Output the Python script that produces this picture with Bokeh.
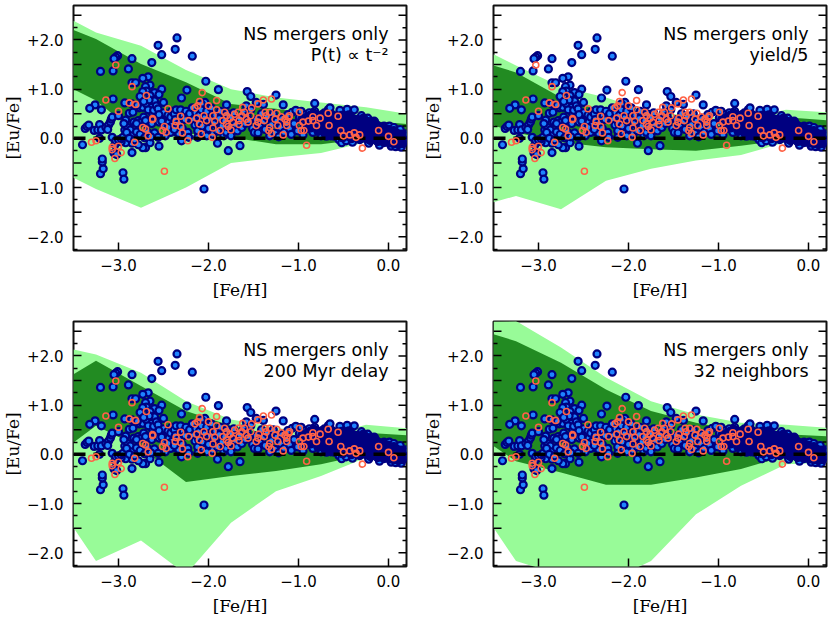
from bokeh.plotting import figure
from bokeh.layouts import column, row
from bokeh.models import Label, FixedTicker, Range1d
from bokeh.embed import file_html
from bokeh.resources import INLINE

# x nodes of the model bands
band_x = [-3.5, -3.25, -2.75, -2.25, -1.75, -1.25, -0.75, -0.25, 0.2]

light_hi_1 = [2.39, 2.15, 1.88, 1.39, 1.00, 0.83, 0.73, 0.63, 0.50]
light_lo_1 = [-0.80, -1.03, -1.41, -1.00, -0.50, -0.39, -0.30, -0.08, -0.05]
dark_hi_1 = [2.20, 2.02, 1.51, 1.14, 0.70, 0.60, 0.46, 0.36, 0.29]
dark_lo_1 = [1.00, 0.77, 0.02, 0.10, 0.02, -0.12, -0.12, -0.01, 0.05]

light_hi_2 = [1.71, 1.48, 1.05, 0.83, 0.53, 0.46, 0.39, 0.58, 0.53]
light_lo_2 = [-1.30, -1.17, -1.44, -0.86, -0.62, -0.45, -0.34, -0.08, -0.10]
dark_hi_2 = [1.48, 1.34, 0.83, 0.53, 0.39, 0.29, 0.22, 0.43, 0.37]
dark_lo_2 = [0.26, 0.12, -0.08, -0.18, -0.22, -0.25, -0.15, -0.03, -0.01]

light_hi_3 = [2.13, 2.03, 1.66, 1.08, 0.71, 0.55, 0.35, 0.60, 0.53]
light_lo_3 = [-1.49, -2.17, -1.75, -2.44, -1.39, -0.75, -0.44, -0.07, -0.05]
dark_hi_3 = [1.63, 1.90, 1.39, 0.88, 0.58, 0.37, 0.20, 0.44, 0.39]
dark_lo_3 = [0.24, 0.58, 0.13, -0.56, -0.44, -0.34, -0.20, 0.00, 0.01]

light_hi_4 = [2.70, 2.71, 2.17, 1.56, 1.08, 0.81, 0.64, 0.60, 0.54]
light_lo_4 = [-1.49, -2.17, -2.45, -2.60, -2.17, -1.22, -0.64, -0.20, -0.17]
dark_hi_4 = [2.44, 2.30, 1.86, 1.32, 0.88, 0.64, 0.47, 0.41, 0.37]
dark_lo_4 = [0.17, -0.14, -0.37, -0.62, -0.62, -0.47, -0.30, -0.03, -0.01]

titles = [("NS mergers only", "P(t) \u221d t\u207b\u00b2"),
          ("NS mergers only", "yield/5"),
          ("NS mergers only", "200 Myr delay"),
          ("NS mergers only", "32 neighbors")]

# [Fe/H], [Eu/Fe]
stars_high = [(-2.35,2.04),(-2.56,1.89),(-2.37,1.81),(-2.52,1.70),(-2.18,1.67),(-3.01,1.68),(-3.03,1.65),(-3.05,1.62),
 (-2.85,1.62),(-2.63,1.54),(-2.89,1.41),(-3.06,1.37),(-3.20,1.36),(-2.67,1.25),(-2.73,1.22),(-2.85,1.13),(-2.81,1.13),
 (-2.03,1.16),(-2.24,0.98),(-1.89,0.99),(-1.57,0.95),(-1.53,0.85),(-1.25,0.88),(-2.52,1.00),(-2.65,1.08),(-2.70,1.05),
 (-2.69,0.96),(-2.73,0.95),(-2.60,0.93),(-2.65,0.87),(-2.76,0.85),(-2.55,0.89),(-2.30,0.82),(-3.06,0.80),(-2.60,0.76),
 (-2.50,0.73),(-3.26,0.68),(-3.32,0.61),(-3.19,0.58),(-2.93,0.72),(-2.85,0.70),(-2.77,0.62),(-2.73,0.63),(-2.69,0.70),
 (-2.63,0.63),(-2.04,0.73),(-2.08,0.70),(-1.80,0.68),(-1.58,0.66),(-1.47,0.73),(-1.39,0.69),(-1.17,0.68),(-0.82,0.71)]
stars_low = [(-2.05,-1.03),(-3.20,-0.72),(-3.17,-0.62),(-3.18,-0.48),(-3.18,-0.42),(-2.95,-0.70),(-2.94,-0.83),
 (-2.85,-0.29),(-3.05,-0.30),(-3.02,-0.33),(-3.40,-0.13),(-1.78,-0.25),(-1.65,-0.15),(-1.90,-0.10),(-2.70,-0.19),
 (-2.73,-0.19),(-2.65,-0.09),(-2.55,-0.16),(-2.30,-0.05),(-2.85,-0.10),(-2.78,-0.13),(-2.92,-0.09),(-2.97,-0.07),(-3.04,-0.13)]
stars_vmp = [(-3.37,0.20),(-3.35,0.24),(-3.33,0.27),(-3.27,0.16),(-3.23,0.17),(-3.21,0.28),(-3.19,0.17),(-3.21,0.00),
 (-3.14,0.22),(-3.11,0.27),(-3.09,0.33),(-3.08,0.39),(-3.07,0.43),(-3.00,0.46),(-3.07,0.02),(-3.03,-0.05),(-3.00,-0.03),
 (-2.97,-0.01),(-2.95,0.02),(-2.93,0.17),(-2.92,0.37),(-2.90,0.22),(-2.88,0.51),(-2.87,0.17),(-2.85,0.05),(-2.83,0.33),
 (-2.84,0.53),(-2.80,0.13),(-2.78,0.36),(-2.75,0.33),(-2.72,0.43),(-2.70,0.30),(-2.68,0.13),(-2.66,0.37),(-2.63,0.30),
 (-2.63,0.53),(-2.60,0.11),(-2.58,0.40),(-2.57,0.52),(-2.55,0.33),(-2.53,0.45),(-2.50,0.52),(-2.49,0.25),(-2.70,0.36),
 (-2.67,0.58),(-2.61,0.57),(-2.58,0.66),(-2.56,0.60),(-2.66,0.78),(-2.72,0.75),(-2.79,0.67),(-2.80,0.30),(-2.91,0.12),
 (-2.88,0.00),(-2.82,-0.03),(-2.76,0.08),(-2.71,0.01),(-2.64,0.03),(-2.56,0.02),(-3.12,0.18),(-2.94,0.30)]
stars_mp = [(-2.47,0.37),(-2.45,0.47),(-2.44,0.33),(-2.42,0.43),(-2.41,0.55),(-2.40,0.27),(-2.38,0.50),(-2.37,0.38),
 (-2.36,0.58),(-2.35,0.12),(-2.33,0.30),(-2.31,0.58),(-2.29,0.20),(-2.28,0.47),(-2.26,0.38),(-2.25,0.55),(-2.23,0.12),
 (-2.21,0.50),(-2.18,0.62),(-2.17,0.38),(-2.15,0.27),(-2.14,0.52),(-2.12,0.15),(-2.11,0.30),(-2.10,0.47),(-2.08,0.58),
 (-2.07,0.25),(-2.05,0.10),(-2.04,0.42),(-2.02,0.55),(-2.00,0.20),(-1.98,0.38),(-1.97,0.62),(-1.95,0.08),(-1.94,0.30),
 (-1.92,0.47),(-1.90,0.15),(-1.88,0.40),(-1.87,0.55),(-1.85,0.25),(-1.83,0.05),(-1.82,0.35),(-1.80,0.12),(-1.79,0.50),
 (-1.77,0.22),(-1.75,0.05),(-1.74,0.42),(-1.72,0.52),(-1.70,0.28),(-1.68,0.15),(-2.48,0.05),(-2.42,0.12),(-2.33,0.10),
 (-2.22,0.02),(-2.12,0.02),(-2.02,0.05),(-2.45,0.22),(-2.38,0.18),(-2.55,0.48),(-2.52,0.35)]
stars_mid = [(-1.65,0.40),(-1.63,0.22),(-1.61,0.52),(-1.59,0.30),(-1.57,0.45),(-1.55,0.36),(-1.53,0.58),(-1.51,0.20),
 (-1.49,0.12),(-1.47,0.38),(-1.45,0.11),(-1.43,0.28),(-1.41,0.50),(-1.39,0.35),(-1.37,0.18),(-1.35,0.42),(-1.32,0.05),
 (-1.30,0.28),(-1.28,0.50),(-1.26,0.10),(-1.24,0.35),(-1.22,0.03),(-1.20,0.22),(-1.18,0.40),(-1.16,0.12),(-1.14,0.30),
 (-1.12,0.48),(-1.10,0.20),(-1.08,0.08),(-1.07,0.53),(-1.05,0.30),(-1.03,0.57),(-1.01,0.15),(-0.99,0.42),(-0.97,0.55),
 (-0.95,0.07),(-0.94,0.30),(-0.92,0.48),(-0.90,0.20),(-0.88,0.52),(-0.84,0.12),(-0.82,0.55),(-0.75,0.05),(-0.69,0.50),
 (-0.67,0.58),(-0.65,0.62),(-0.64,0.05),(-0.54,0.57),(-0.46,0.59),(-0.38,0.58),(-0.23,0.41),(-0.30,0.46),(-0.12,0.25),
 (-0.05,0.25),(0.01,0.25),(0.06,0.22),(0.13,0.18),(-0.55,-0.03),(-0.52,-0.09),(-0.47,-0.05),(-0.40,-0.08),(-0.22,-0.10),
 (-0.10,-0.14),(0.03,-0.16),(0.08,-0.17),(0.14,-0.18),(0.18,-0.05),(0.19,0.09)]
stars_disk_core = [(-0.72,0.33),(-0.70,0.25),(-0.68,0.42),(-0.66,0.15),(-0.65,0.33),(-0.63,0.48),(-0.62,0.20),(-0.60,0.38),
 (-0.60,0.05),(-0.58,0.28),(-0.57,0.45),(-0.56,0.12),(-0.55,0.35),(-0.53,0.22),(-0.52,0.46),(-0.51,0.02),(-0.50,0.32),
 (-0.49,0.15),(-0.48,0.40),(-0.47,0.25),(-0.46,0.06),(-0.45,0.34),(-0.44,0.47),(-0.43,0.18),(-0.42,0.28),(-0.41,0.00),
 (-0.40,0.40),(-0.39,0.12),(-0.38,0.30),(-0.37,0.22),(-0.36,0.04),(-0.35,0.38),(-0.34,0.15),(-0.33,0.28),(-0.32,-0.02),
 (-0.31,0.34),(-0.30,0.08),(-0.29,0.22),(-0.28,0.40),(-0.27,0.14),(-0.26,0.30),(-0.25,0.00),(-0.24,0.24),(-0.23,0.06),
 (-0.22,0.33),(-0.21,0.16),(-0.20,-0.04),(-0.19,0.27),(-0.18,0.08),(-0.17,0.20),(-0.16,0.34),(-0.15,0.00),(-0.14,0.14),
 (-0.13,0.26),(-0.12,-0.06),(-0.11,0.07),(-0.10,0.18),(-0.09,-0.02),(-0.08,0.12),(-0.07,0.22),(-0.06,0.03),(-0.05,-0.08),
 (-0.04,0.15),(-0.03,0.06),(-0.02,-0.03),(-0.01,0.18),(0.00,0.08),(0.01,-0.09),(0.02,0.00),(0.03,0.13),(0.04,-0.05),
 (0.05,0.05),(0.06,0.15),(0.07,-0.10),(0.08,0.02),(0.09,0.10),(0.10,-0.04),(0.11,-0.12),(0.12,0.05),(0.13,-0.07),
 (0.14,0.08),(0.15,-0.01),(0.16,-0.10),(0.17,0.06),(0.18,-0.04),(-0.80,0.38),(-0.76,0.20),(-0.74,0.47),(-0.70,0.10),
 (-0.68,0.28),(-0.64,0.38),(-0.58,0.18),(-0.54,0.40),(-0.50,0.24),(-0.46,0.16),(-0.42,0.35),(-0.38,0.07),(-0.34,0.24),
 (-0.96,0.38),(-0.93,0.25),(-0.91,0.42),(-0.89,0.33),(-0.87,0.46),(-0.86,0.22),(-0.84,0.38),(-0.83,0.50),(-0.81,0.28),
 (-0.79,0.46),(-0.78,0.15),(-0.77,0.33),(-0.75,0.40),(-0.73,0.22),(-0.71,0.51),(-0.69,0.05)]

red_x = [-3.03,-2.85,-3.14,-3.00,-2.88,-2.81,-2.69,-2.62,-2.62,-2.07,-2.73,-2.70,-2.67,-3.30,-3.25,-3.07,-3.07,-3.00,-3.04,-2.97,
 -2.82,-2.49,-2.23,-2.45,-2.49,-2.51,-2.47,-2.36,-2.37,-2.31,-2.31,-2.29,-2.22,-2.15,-2.12,-2.10,-2.13,-2.10,-2.08,-2.05,-2.02,
 -2.00,-1.91,-1.91,-1.95,-1.93,-1.95,-1.96,-1.87,-1.82,-1.84,-1.80,-1.76,-1.80,-1.78,-1.75,-1.71,-1.67,-1.73,-1.66,-1.66,-1.62,
 -1.60,-1.63,-1.58,-1.52,-1.56,-1.53,-1.47,-1.45,-1.44,-1.45,-1.39,-1.30,-1.37,-1.36,-1.32,-1.38,-1.32,-1.33,-1.30,-1.24,-1.23,
 -1.26,-1.19,-1.15,-1.13,-1.11,-1.10,-1.13,-1.17,-0.99,-0.99,-0.97,-0.94,-0.95,-0.89,-0.91,-0.84,-0.84,-0.80,-0.76,-0.67,-0.66,
 -0.56,-0.53,-0.50,-0.43,-0.38,-0.32,-0.29,-0.36,-0.11,0.00,0.06]
red_y = [1.49,1.05,0.78,0.55,0.72,0.69,0.87,0.40,0.38,0.93,0.22,0.19,0.05,-0.08,-0.05,-0.18,-0.23,-0.16,-0.41,-0.29,
 -0.08,-0.67,-0.05,0.60,0.24,0.16,0.12,0.34,0.26,0.24,0.45,0.11,0.36,0.62,0.66,0.75,0.41,0.29,0.09,0.46,0.36,
 0.66,0.77,0.58,0.46,0.35,0.21,0.02,0.16,0.53,0.36,0.29,0.41,0.46,0.24,0.17,0.49,0.53,0.33,0.28,0.36,0.63,
 0.53,0.46,0.39,0.62,0.33,0.46,0.26,0.33,0.41,0.70,0.78,0.80,0.53,0.46,0.53,0.36,0.22,0.16,0.10,0.51,0.26,
 0.39,0.44,0.39,0.33,0.43,0.46,0.26,0.07,0.53,0.26,0.16,0.16,0.33,0.35,-0.14,0.44,0.36,0.26,0.41,0.51,0.26,
 0.45,0.16,0.05,0.07,0.11,0.07,-0.20,0.02,0.16,0.04,-0.07]

zero_x = [-3.5, 0.2]
zero_y = [0.0, 0.0]

y_major = [-2.0, -1.0, 0.0, 1.0, 2.0]
y_half = [-1.5, -0.5, 0.5, 1.5, 2.5]
y_minor = [-2.25, -1.75, -1.25, -0.75, -0.25, 0.25, 0.75, 1.25, 1.75, 2.25]
y_labels = {-2.0: "\u22122.0", -1.0: "\u22121.0", 0.0: "0.0", 1.0: "+1.0", 2.0: "+2.0"}
x_major = [-3.0, -2.0, -1.0, 0.0]
x_labels = {-3.0: "\u22123.0", -2.0: "\u22122.0", -1.0: "\u22121.0", 0.0: "0.0"}

XLEFT, XRIGHT = -3.5, 0.2
LONG, SHORT = 8 / 90.0, 4 / 90.0
FONT = "DejaVu Sans"
LABEL_FONT = "DejaVu Serif"
blue = stars_high + stars_low + stars_vmp + stars_mp + stars_mid
blue_x = [s[0] for s in blue]
blue_y = [s[1] for s in blue]
core_x = [s[0] for s in stars_disk_core]
core_y = [s[1] for s in stars_disk_core]


def panel(light_hi, light_lo, dark_hi, dark_lo, title, bottom, right):
    p = figure(output_backend="svg", toolbar_location=None,
               frame_width=333, frame_height=245,
               min_border_left=73, min_border_right=right,
               min_border_top=5, min_border_bottom=bottom,
               x_range=Range1d(XLEFT, XRIGHT), y_range=Range1d(-2.28, 2.70),
               background_fill_color="white", border_fill_color=None)
    p.grid.visible = False
    p.outline_line_color = "#111111"
    p.outline_line_width = 2
    p.varea(band_x, light_lo, light_hi, fill_color="#98fb98")
    p.varea(band_x, dark_lo, dark_hi, fill_color="#228b22")
    p.scatter(blue_x, blue_y, size=7, fill_color="#1e84ff", line_color="#000080", line_width=2.2)
    p.scatter(core_x, core_y, size=8.5, fill_color="#000080", line_color="#000080", line_width=1.5)
    p.line(zero_x, zero_y, line_color="black", line_width=3.5, line_dash="12 8")
    p.scatter(red_x, red_y, size=6, fill_color=None, line_color="#ff6347", line_width=1.6)

    # half-dex ticks on the left and the mirrored ticks on the right
    n_all = len(y_major) + len(y_half)
    p.segment([XLEFT] * len(y_half), y_half, [XLEFT + LONG] * len(y_half), y_half,
              line_color="black", line_width=1.5)
    p.segment([XRIGHT - LONG] * n_all, y_major + y_half, [XRIGHT] * n_all, y_major + y_half,
              line_color="black", line_width=1.5)
    p.segment([XRIGHT - SHORT] * len(y_minor), y_minor, [XRIGHT] * len(y_minor), y_minor,
              line_color="black", line_width=1.5)

    xa = p.xaxis[0]
    xa.ticker = FixedTicker(ticks=x_major)
    xa.major_label_overrides = x_labels
    xa.major_tick_in, xa.major_tick_out = 8, 0
    xa.minor_tick_line_color = None
    xa.axis_line_color = None
    xa.major_tick_line_width = 1.5
    xa.major_label_standoff = 8
    xa.major_label_text_font = FONT
    xa.major_label_text_font_size = "15px"
    xa.major_label_text_color = "black"
    xa.axis_label = "[Fe/H]"
    xa.axis_label_text_font = LABEL_FONT
    xa.axis_label_text_font_size = "17px"
    xa.axis_label_text_font_style = "normal"
    xa.axis_label_text_color = "black"
    xa.axis_label_standoff = 6

    ya = p.yaxis[0]
    ya.ticker = FixedTicker(ticks=y_major, minor_ticks=y_minor)
    ya.major_label_overrides = y_labels
    ya.major_tick_in, ya.major_tick_out = 8, 0
    ya.minor_tick_in, ya.minor_tick_out = 4, 0
    ya.axis_line_color = None
    ya.major_tick_line_width = 1.5
    ya.minor_tick_line_width = 1.5
    ya.major_label_standoff = 10
    ya.major_label_text_font = FONT
    ya.major_label_text_font_size = "15px"
    ya.major_label_text_color = "black"
    ya.major_label_orientation = "horizontal"
    ya.axis_label = "[Eu/Fe]"
    ya.axis_label_text_font = LABEL_FONT
    ya.axis_label_text_font_size = "17px"
    ya.axis_label_text_font_style = "normal"
    ya.axis_label_text_color = "black"
    ya.axis_label_standoff = 1

    for text, y in zip(title, (2.13, 1.70)):
        p.add_layout(Label(x=0.0, y=y, text=text, text_align="right", text_baseline="middle",
                           text_font="DejaVu Sans", text_font_size="17.5px", text_color="black"))
    return p


p1 = panel(light_hi_1, light_lo_1, dark_hi_1, dark_lo_1, titles[0], 66, 14)
p2 = panel(light_hi_2, light_lo_2, dark_hi_2, dark_lo_2, titles[1], 66, 3)
p3 = panel(light_hi_3, light_lo_3, dark_hi_3, dark_lo_3, titles[2], 46, 14)
p4 = panel(light_hi_4, light_lo_4, dark_hi_4, dark_lo_4, titles[3], 46, 3)

layout = column(row(p1, p2), row(p3, p4))
open("out.html", "w").write(file_html(layout, INLINE))
